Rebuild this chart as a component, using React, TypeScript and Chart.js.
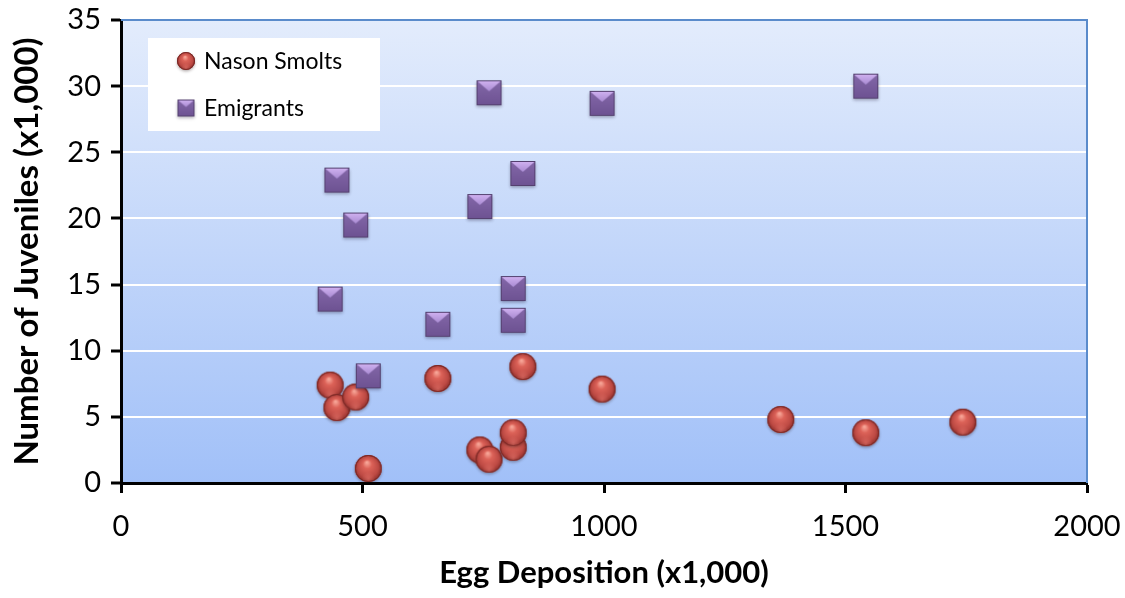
import React, { useEffect, useRef } from 'react';
import { Chart, registerables } from 'chart.js';

Chart.register(...registerables);

// ---- Data ----
const smoltEggs = [433, 447, 486, 512, 656, 743, 762, 812, 812, 832, 996, 1366, 1542, 1743];
const smoltCounts = [7.4, 5.7, 6.5, 1.1, 7.9, 2.5, 1.8, 2.7, 3.8, 8.8, 7.1, 4.8, 3.8, 4.6];
const emigrantEggs = [433, 447, 486, 512, 656, 743, 762, 812, 812, 832, 996, 1542];
const emigrantCounts = [13.9, 22.9, 19.5, 8.1, 12.0, 20.9, 29.5, 14.7, 12.3, 23.4, 28.7, 30.0];
const seriesNames = ['Nason Smolts', 'Emigrants'];
const xTitle = 'Egg Deposition (x1,000)';
const yTitle = 'Number of Juveniles (x1,000)';

const FONT = 'Lato, "Open Sans", "DejaVu Sans", sans-serif';

function makeSphere(d: number): HTMLCanvasElement {
  const pad = 5;
  const size = Math.ceil(d + pad * 2);
  const c = document.createElement('canvas');
  c.width = size;
  c.height = size;
  const g = c.getContext('2d')!;
  const cx = size / 2;
  const cy = size / 2;
  const r = d / 2;
  g.save();
  g.shadowColor = 'rgba(40,20,20,0.35)';
  g.shadowBlur = 3;
  g.shadowOffsetY = 1.5;
  g.beginPath();
  g.arc(cx, cy, r, 0, Math.PI * 2);
  g.fillStyle = '#a83d39';
  g.fill();
  g.restore();
  const grad = g.createRadialGradient(cx - r * 0.1, cy - r * 0.45, r * 0.05, cx, cy, r);
  grad.addColorStop(0, '#f7a597');
  grad.addColorStop(0.3, '#dc6258');
  grad.addColorStop(0.75, '#bd4a44');
  grad.addColorStop(1, '#8f2f2b');
  g.beginPath();
  g.arc(cx, cy, r, 0, Math.PI * 2);
  g.fillStyle = grad;
  g.fill();
  const rg = g.createRadialGradient(cx, cy + r * 0.75, 0, cx, cy + r * 0.75, r * 0.5);
  rg.addColorStop(0, 'rgba(240,130,120,0.45)');
  rg.addColorStop(1, 'rgba(240,130,120,0)');
  g.beginPath();
  g.arc(cx, cy, r, 0, Math.PI * 2);
  g.fillStyle = rg;
  g.fill();
  g.lineWidth = 1;
  g.strokeStyle = 'rgba(110,35,32,0.8)';
  g.beginPath();
  g.arc(cx, cy, r - 0.5, 0, Math.PI * 2);
  g.stroke();
  return c;
}

function makePyramid(s: number): HTMLCanvasElement {
  const pad = 5;
  const size = Math.ceil(s + pad * 2);
  const c = document.createElement('canvas');
  c.width = size;
  c.height = size;
  const g = c.getContext('2d')!;
  const x0 = (size - s) / 2;
  const y0 = (size - s) / 2;
  g.save();
  g.shadowColor = 'rgba(30,20,50,0.35)';
  g.shadowBlur = 3;
  g.shadowOffsetY = 1.5;
  g.fillStyle = '#6c5190';
  g.fillRect(x0, y0, s, s);
  g.restore();
  const base = g.createLinearGradient(0, y0, 0, y0 + s);
  base.addColorStop(0, '#8468a9');
  base.addColorStop(1, '#6d5292');
  g.fillStyle = base;
  g.fillRect(x0, y0, s, s);
  // light top face
  g.beginPath();
  g.moveTo(x0 + 1, y0 + 1);
  g.lineTo(x0 + s - 1, y0 + 1);
  g.lineTo(x0 + s / 2, y0 + s * 0.44);
  g.closePath();
  const tg = g.createLinearGradient(0, y0, 0, y0 + s * 0.44);
  tg.addColorStop(0, '#d2b3f2');
  tg.addColorStop(1, '#a98bd2');
  g.fillStyle = tg;
  g.fill();
  g.lineWidth = 1;
  g.strokeStyle = '#54406f';
  g.strokeRect(x0 + 0.5, y0 + 0.5, s - 1, s - 1);
  return c;
}

const bgPlugin = {
  id: 'plotBackground',
  beforeDraw(chart: any) {
    const { ctx, chartArea } = chart;
    const { left, top, right, bottom } = chartArea;
    const grad = ctx.createLinearGradient(0, top, 0, bottom);
    grad.addColorStop(0, '#e3ecfc');
    grad.addColorStop(1, '#a1c0f8');
    ctx.save();
    ctx.fillStyle = '#ffffff';
    ctx.fillRect(0, 0, chart.width, chart.height);
    ctx.fillStyle = grad;
    ctx.fillRect(left, top, right - left, bottom - top);
    ctx.restore();
  },
  afterDraw(chart: any) {
    const { ctx, chartArea } = chart;
    const { left, top, right, bottom } = chartArea;
    ctx.save();
    ctx.strokeStyle = '#5a8bcb';
    ctx.lineWidth = 2;
    ctx.beginPath();
    ctx.moveTo(left, top);
    ctx.lineTo(right, top);
    ctx.lineTo(right, bottom);
    ctx.stroke();
    ctx.restore();
  },
};

function makeLegendPlugin(icons: HTMLCanvasElement[]) {
  return {
    id: 'boxLegend',
    afterDraw(chart: any) {
      const { ctx, chartArea } = chart;
      const bx = chartArea.left + 27;
      const by = chartArea.top + 18;
      const bw = 232;
      const bh = 93;
      ctx.save();
      ctx.fillStyle = '#ffffff';
      ctx.fillRect(bx, by, bw, bh);
      ctx.font = '23px ' + FONT;
      ctx.fillStyle = '#000000';
      ctx.textBaseline = 'middle';
      ctx.textAlign = 'left';
      const rows = [by + 23, by + 70];
      seriesNames.forEach((name, i) => {
        const ic = icons[i];
        ctx.drawImage(ic, bx + 38 - ic.width / 2, rows[i] - ic.height / 2);
        ctx.fillText(name, bx + 56, rows[i] + 1);
      });
      ctx.restore();
    },
  };
}

export default function App() {
  const ref = useRef<HTMLCanvasElement | null>(null);

  useEffect(() => {
    document.body.style.margin = '0';
    const canvas = ref.current;
    if (!canvas) return;
    const sphere = makeSphere(27);
    const pyramid = makePyramid(25);
    const sphereSmall = makeSphere(18);
    const pyramidSmall = makePyramid(17);

    const hideEdge = (c: any) =>
      c.tick && (c.tick.value === 0 || c.tick.value === 35) ? 'rgba(0,0,0,0)' : '#ffffff';

    const chart = new Chart(canvas, {
      type: 'scatter',
      data: {
        datasets: [
          {
            label: seriesNames[1],
            data: emigrantEggs.map((x, i) => ({ x, y: emigrantCounts[i] })),
            pointStyle: pyramid as any,
            pointRadius: 13,
            backgroundColor: '#7b5fa0',
            borderColor: '#4f3c6c',
          },
          {
            label: seriesNames[0],
            data: smoltEggs.map((x, i) => ({ x, y: smoltCounts[i] })),
            pointStyle: sphere as any,
            pointRadius: 14,
            backgroundColor: '#c0504d',
            borderColor: '#8f2f2b',
          },
        ],
      },
      options: {
        animation: false,
        responsive: false,
        devicePixelRatio: 1,
        layout: { padding: { top: 20, right: 38, left: 0, bottom: 0 } },
        plugins: {
          legend: { display: false },
          tooltip: { enabled: false },
        },
        scales: {
          x: {
            type: 'linear',
            min: 0,
            max: 2000,
            ticks: {
              stepSize: 500,
              color: '#000000',
              padding: 16,
              font: { family: FONT, size: 29 },
              callback: (v: any) => String(v),
            },
            grid: {
              drawOnChartArea: false,
              drawTicks: true,
              tickLength: 10,
              tickColor: '#000000',
              tickWidth: 3,
            },
            border: { display: true, color: '#000000', width: 3 },
            title: {
              display: true,
              text: xTitle,
              color: '#000000',
              font: { family: FONT, size: 31, weight: 'bold' },
              padding: { top: 0, bottom: 6 },
            },
            afterFit(scale: any) {
              scale.height = 115;
              scale.paddingLeft = 0;
              scale.paddingRight = 0;
            },
          },
          y: {
            type: 'linear',
            min: 0,
            max: 35,
            ticks: {
              stepSize: 5,
              color: '#000000',
              padding: 10,
              font: { family: FONT, size: 29 },
              callback: (v: any) => String(v),
            },
            grid: {
              color: hideEdge,
              lineWidth: 2,
              drawTicks: true,
              tickLength: 10,
              tickColor: '#000000',
              tickWidth: 3,
            },
            border: { display: true, color: '#000000', width: 3 },
            title: {
              display: true,
              text: yTitle,
              color: '#000000',
              font: { family: FONT, size: 33, weight: 'bold' },
              padding: { top: 8, bottom: 0 },
            },
            afterFit(scale: any) {
              scale.width = 121;
              scale.paddingTop = 0;
              scale.paddingBottom = 0;
            },
          },
        },
      } as any,
      plugins: [bgPlugin, makeLegendPlugin([sphereSmall, pyramidSmall])],
    });
    return () => chart.destroy();
  }, []);

  return (
    <div style={{ width: 1125, height: 598 }}>
      <canvas ref={ref} width={1125} height={598} style={{ display: 'block' }} />
    </div>
  );
}
